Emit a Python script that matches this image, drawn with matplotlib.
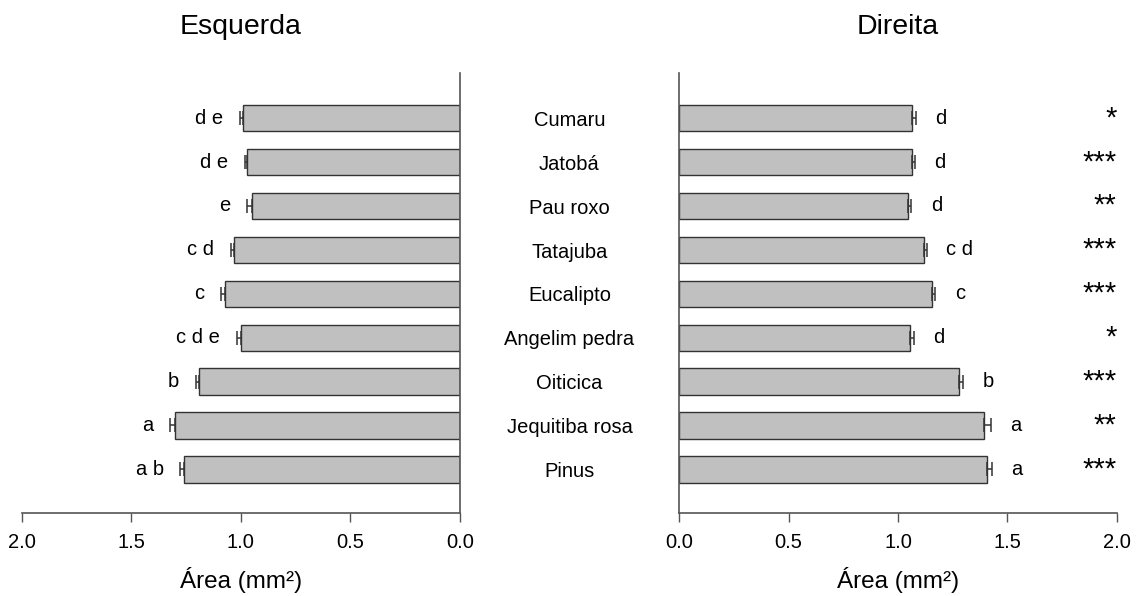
import numpy as np
import matplotlib.pyplot as plt
from matplotlib.transforms import blended_transform_factory

plt.rcParams['font.family'] = ['Liberation Sans', 'DejaVu Sans']

especies = ['Cumaru', 'Jatobá', 'Pau roxo', 'Tatajuba', 'Eucalipto',
            'Angelim pedra', 'Oiticica', 'Jequitiba rosa', 'Pinus']

# area media (mm²) e erro padrao, lado esquerdo
esquerda = [0.99, 0.97, 0.95, 1.03, 1.07, 1.00, 1.19, 1.30, 1.26]
esquerda_ep = [0.015, 0.011, 0.021, 0.015, 0.021, 0.017, 0.015, 0.024, 0.015]
esquerda_letras = ['d e', 'd e', 'e', 'c d', 'c', 'c d e', 'b', 'a', 'a b']

# lado direito
direita = [1.065, 1.063, 1.046, 1.117, 1.154, 1.055, 1.279, 1.395, 1.406]
direita_ep = [0.017, 0.014, 0.015, 0.015, 0.017, 0.017, 0.018, 0.030, 0.023]
direita_letras = ['d', 'd', 'd', 'c d', 'c', 'd', 'b', 'a', 'a']

# significancia esquerda x direita
signif = ['*', '***', '**', '***', '***', '*', '***', '**', '***']

ticks = [0.0, 0.5, 1.0, 1.5, 2.0]

n = len(especies)
y = np.arange(n)[::-1]

fig = plt.figure(figsize=(11.43, 5.96), dpi=100)
ax_e = fig.add_axes([0.019, 0.1388, 0.3832, 0.7388])
ax_d = fig.add_axes([0.5943, 0.1388, 0.3827, 0.7388])

cinza = '#c0c0c0'
borda = '#333333'
eixo = '#555555'

for ax, vals, ep in [(ax_e, esquerda, esquerda_ep), (ax_d, direita, direita_ep)]:
    ax.barh(y, vals, height=0.6, color=cinza, edgecolor=borda, linewidth=1.0)
    # barra de erro so para fora
    ax.errorbar(vals, y, xerr=[np.zeros(n), ep], fmt='none', ecolor=borda,
                elinewidth=1.1, capsize=5, capthick=1.1)
    ax.set_xlim(0, 2)
    ax.set_ylim(-1, 9.03)
    ax.set_xticks(ticks)
    ax.set_xticklabels([f'{t:.1f}' for t in ticks])
    ax.set_yticks([])
    ax.tick_params(axis='x', direction='out', length=6.5, width=1.0,
                   color=eixo, labelsize=14.5, pad=8)
    ax.spines['top'].set_visible(False)
    for s in ax.spines.values():
        s.set_color(eixo)
        s.set_linewidth(1.2)

ax_e.invert_xaxis()
ax_e.spines['left'].set_visible(False)
ax_d.spines['right'].set_visible(False)

# letras dos testes
for yi, v, e, l in zip(y, esquerda, esquerda_ep, esquerda_letras):
    ax_e.annotate(l, (v + e, yi), xytext=(-12, 0), textcoords='offset points',
                  ha='right', va='center', fontsize=14.5)
for yi, v, e, l in zip(y, direita, direita_ep, direita_letras):
    ax_d.annotate(l, (v + e, yi), xytext=(14, 0), textcoords='offset points',
                  ha='left', va='center', fontsize=14.5)
for yi, s in zip(y, signif):
    ax_d.text(2.0, yi, s, ha='right', va='center', fontsize=21)

# nomes das especies entre os dois paineis
meio = (ax_e.get_position().x1 + ax_d.get_position().x0) / 2
trans = blended_transform_factory(fig.transFigure, ax_e.transData)
for yi, nome in zip(y, especies):
    ax_e.text(meio, yi - 0.05, nome, transform=trans, ha='center',
              va='center', fontsize=14.5, clip_on=False)

for ax, titulo in [(ax_e, 'Esquerda'), (ax_d, 'Direita')]:
    pos = ax.get_position()
    xc = (pos.x0 + pos.x1) / 2
    fig.text(xc, 1 - 27 / 596, titulo, ha='center', va='center', fontsize=20.5)
    fig.text(xc, 1 - 588 / 596, 'Área (mm²)', ha='center', va='baseline',
             fontsize=17.5)

fig.savefig('out.png', dpi=100)
